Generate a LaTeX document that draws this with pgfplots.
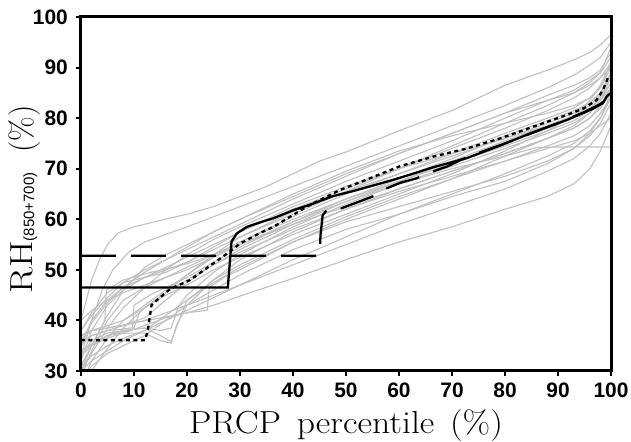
\documentclass[border=0pt]{standalone}
\usepackage{fontspec}
\usepackage{pgfplots}
\pgfplotsset{compat=1.18}
\newfontfamily\sansfnt{Liberation Sans}
\newcommand\tickfnt{\sansfnt\bfseries\fontsize{21}{21}\selectfont}
\newcommand\labfnt{\fontsize{32}{32}\selectfont}
\definecolor{lgray}{RGB}{192,192,192}
\pgfplotsset{gry/.style={color=lgray, line width=1.1bp, no markers}}
\begin{document}
\begin{tikzpicture}
\begin{axis}[
    scale only axis,
    width=530bp, height=354bp,
    xmin=0, xmax=100, ymin=30, ymax=100,
    xtick={0,10,...,100}, ytick={30,40,...,100},
    tick pos=left,
    tick align=outside,
    major tick length=5bp,
    tick style={line width=2bp, black},
    axis line style={line width=3bp},
    axis on top,
    tick label style={font=\tickfnt, inner sep=0pt},
    /pgf/number format/assume math mode=true,
    xticklabel style={anchor=north, yshift=-7bp},
    yticklabel style={anchor=east, xshift=-8bp},
    xlabel={\labfnt\scalebox{1.12}[1]{PRCP\hspace{14bp}percentile\hspace{14bp}(\%)}},
    xlabel style={at={(axis description cs:0.5,0)}, anchor=north, inner sep=0pt, yshift=-38bp},
    ylabel={\labfnt\scalebox{1.2}[1]{RH}\raisebox{-2bp}{\sansfnt\fontsize{15}{15}\selectfont (850+700)}\hspace{20bp}(\%)},
    ylabel style={at={(axis description cs:-0.1377,0.4845)}, anchor=north, inner sep=0pt},
]
% ensemble members
\addplot[gry] coordinates {(0,40) (1,44) (2,48) (3.5,52) (5,55) (7,57.3) (10,58.5) (15,59.8) (20,61) (25,62.5) (30,64.5) (35,66.5) (40,69) (45,71.5) (50,73.3) (60,77.5) (70,81.5) (80,86.5) (88,89.5) (93,91.5) (96,93) (98,94.5) (100,96.5)};
\addplot[gry] coordinates {(0,33) (2,40) (4,46) (6,50) (9,53.5) (12,55.5) (16,57) (20,58.5) (25,60.5) (30,62.5) (40,66.5) (50,70.5) (60,74.5) (70,78.5) (80,82.5) (88,86) (93,88.5) (96,90.5) (98,92) (100,95)};
\addplot[gry] coordinates {(0,31) (2,35) (5,41) (8,46) (12,50.5) (16,53) (20,55) (25,57.5) (30,60) (40,64.5) (50,69) (60,73) (70,77) (80,81) (88,84.5) (93,86.5) (96,88) (98,89.5) (100,93)};
\addplot[gry] coordinates {(0,36) (2,39.5) (5,43.5) (8,46.5) (12,49.5) (16,52) (20,54.5) (25,57.5) (30,60) (40,65) (50,69.5) (60,73.5) (70,76.5) (80,79) (88,81) (93,82.5) (96,84) (98,86) (100,91)};
\addplot[gry] coordinates {(0,30) (2,33.5) (5,38.5) (8,42.5) (12,46.5) (16,50) (20,53) (25,56) (30,58.5) (40,63) (50,67.5) (60,71.5) (70,75.5) (80,80) (88,83.5) (93,85.5) (96,87.5) (98,89) (100,92)};
\addplot[gry] coordinates {(0,38) (2,41.5) (5,45.5) (8,47.5) (12,48.5) (16,49.5) (20,51.5) (25,54.5) (30,57.5) (40,62.5) (50,66.5) (60,70) (70,73) (80,76) (88,78.5) (93,80.5) (96,82.5) (98,84.5) (100,89)};
\addplot[gry] coordinates {(0,35) (2,37) (5,38) (8,38.3) (10,38.6) (11,41.5) (12,42.5) (16,45.5) (20,49) (25,53) (30,56.5) (40,61.5) (50,65.5) (60,69) (70,72.5) (80,76) (88,79) (93,81) (96,83) (98,85) (100,88)};
\addplot[gry] coordinates {(0,27) (2,32) (5,36.5) (8,40) (12,43) (16,46) (20,49) (25,52.5) (30,55.5) (40,60.5) (50,65) (60,69) (70,73) (80,77) (88,80) (93,82) (96,84) (98,86) (100,90)};
\addplot[gry] coordinates {(0,37) (2,38) (5,38.5) (8,39) (12,40.5) (16,44) (20,47.5) (25,51) (30,54) (40,59) (50,63.5) (60,67.5) (70,71.5) (80,75.5) (88,78.5) (93,80.5) (96,82) (98,84) (100,87)};
\addplot[gry] coordinates {(0,33) (2,36) (5,37.5) (8,38) (12,38.5) (15,38) (17,38.5) (18.5,43) (20,45) (25,49.5) (30,53) (40,58.5) (50,63) (60,67) (70,70.5) (80,74) (88,77) (93,79) (96,81) (98,83.5) (100,86)};
\addplot[gry] coordinates {(0,31) (2,35) (5,37) (8,37.5) (12,37.5) (15,36) (17,35.5) (18,39) (20,43) (25,48) (30,52) (40,57.5) (50,62) (60,66) (70,69.5) (80,73) (88,76) (93,78) (96,80) (98,82) (100,85)};
\addplot[gry] coordinates {(0,30) (2,35) (4.5,40) (4.8,46) (8,48) (12,49.2) (16,50.2) (20,51.2) (25,53) (30,55) (40,59) (50,62.5) (60,66) (70,69.5) (80,73) (88,76) (93,78) (96,80) (98,82.5) (100,86)};
\addplot[gry] coordinates {(0,26) (2,30) (5,34.5) (8,38.5) (12,42.5) (16,45.5) (20,48) (25,51) (30,53.5) (40,58) (50,62) (60,65.5) (70,68.5) (80,71.5) (88,74) (93,75.5) (96,77) (98,78.5) (100,80)};
\addplot[gry] coordinates {(0,40) (2,42) (5,44) (8,45.5) (12,47) (16,48.5) (20,50) (25,52.5) (30,55) (40,59.5) (50,63.5) (60,67) (70,70) (80,72.5) (86,74.2) (90,74.3) (100,74.3)};
\addplot[gry] coordinates {(0,36) (2,37) (5,38) (8,39) (12,40) (16,41.5) (20,43) (25,45) (30,47) (40,51) (50,55) (60,59) (70,62.5) (80,66) (88,69.5) (93,72) (96,74.5) (98,77) (100,81)};
\addplot[gry] coordinates {(0,34) (2,35) (5,36.5) (8,37.5) (12,39) (16,40.5) (20,41.5) (25,43) (30,44.8) (40,48.3) (50,52) (60,55.5) (70,58.5) (80,62) (88,64.5) (93,67) (96,70) (98,73.5) (100,78.5)};
\addplot[gry] coordinates {(0,30) (2,32) (5,34) (8,36) (12,38) (16,40) (20,42) (25,44.5) (30,47) (40,52) (50,56.5) (60,61) (70,65) (80,69) (88,72.5) (93,75) (96,77.5) (98,80) (100,84)};
\addplot[gry] coordinates {(0,37) (2,38) (5,38.5) (10,39.5) (15,40.5) (20,41.5) (23.8,42) (24.2,46.5) (27,48.5) (30,50) (40,55.5) (50,60) (60,64) (70,68) (80,72.5) (88,76) (93,78.5) (96,81) (98,83.5) (100,87)};
\addplot[gry] coordinates {(0,32) (2,38) (5,43) (8,46) (12,48.5) (16,50.5) (20,52.5) (25,55) (30,57.5) (40,62) (50,66) (60,70) (70,74) (80,78) (88,81.5) (93,84) (96,86) (98,88) (100,91)};
\addplot[gry] coordinates {(0,35) (2,40) (5,44) (8,46.5) (12,48.5) (16,50) (20,51.5) (25,54) (30,56.5) (40,61) (50,65.5) (60,70) (70,74.5) (80,79) (88,82.5) (93,85) (96,87) (98,89) (100,94)};
\addplot[gry] coordinates {(0,29) (2,34) (5,40) (8,44) (12,46.5) (16,48.5) (20,50.5) (25,53) (30,55.5) (40,60) (50,64) (60,67.5) (70,71) (80,74.5) (88,77.5) (93,79.5) (96,81.5) (98,84) (100,88)};
\addplot[gry] coordinates {(0,33) (2,35) (5,37) (8,38) (12,38.5) (15,37) (17,35.8) (18.5,40) (20,44) (25,48) (30,51) (40,56) (50,60.5) (60,64.5) (70,68) (80,71.5) (88,74.5) (93,76.5) (96,78.5) (98,81) (100,84)};
\addplot[gry] coordinates {(0,36) (2,38) (5,39) (8,40) (12,42.5) (16,45) (20,47) (25,50) (30,52.5) (40,57) (50,61) (60,65) (70,69) (80,73.5) (88,77.5) (93,80.5) (96,83.5) (98,86.5) (100,91)};
\addplot[gry] coordinates {(0,31) (2,33) (5,35) (8,36.5) (12,38) (16,41) (20,44) (25,47.5) (30,50.5) (40,55.5) (50,59.5) (60,62.5) (70,65.5) (80,68.5) (88,71.5) (93,74) (96,76.5) (98,79) (100,83)};
\addplot[gry] coordinates {(0,38) (2,41) (5,44.5) (8,47.5) (12,50) (16,52) (20,54) (25,56.5) (30,59) (40,64) (50,68.5) (60,73) (70,77) (80,81) (88,83.5) (93,85) (96,86.5) (98,88) (100,90)};
\addplot[gry] coordinates {(0,28) (2,31) (5,33.5) (8,35) (12,37) (16,40) (20,43) (25,46) (30,49) (40,54) (50,58) (60,61) (70,64.5) (80,67.5) (88,71) (93,74) (96,77) (98,80) (100,85)};
\addplot[gry] coordinates {(0,34) (3,36) (6,37.5) (9.7,38) (10,43) (13,45) (16,46.5) (20,48.5) (25,51.5) (30,54.5) (40,59.5) (50,64) (60,68) (70,72) (80,76.5) (88,79.5) (93,81.5) (96,83) (98,85) (100,89)};
% dashed
\addplot[black, line width=2.3bp, dash pattern=on 35bp off 15bp] coordinates {(0,52.8) (45,52.8) (45.2,57) (45.6,60.8) (46.5,62) (49.2,62.2) (52,63.3) (55.2,64.6) (57.4,66) (60.2,67.2) (63.3,68.1) (66.2,69.4) (69,70.4) (71.8,71.8) (76,73.5) (80,75) (85,77) (90,79) (95,81.2) (98,82.8) (100,84.5)};
% dotted
\addplot[black, line width=2.3bp, dash pattern=on 4bp off 3.5bp] coordinates {(0,36.1) (12.1,36.1) (12.6,38) (13.3,43) (14.3,44) (16.8,46.2) (20.6,48) (25,51.3) (28.1,53.6) (30,55.2) (33.8,57.3) (36.3,58.5) (42.6,62.5) (48.9,65.8) (55.2,68.4) (60.2,70.5) (66.5,72.4) (72.8,74) (79.1,76) (85.3,78.3) (91.6,80.6) (95,82) (97.3,83.6) (98.5,85.6) (99.5,88.2)};
% solid
\addplot[black, line width=2.3bp] coordinates {(0,46.5) (27.7,46.5) (28.4,55.6) (29.4,57.2) (31.3,58.5) (33.8,59.4) (36.3,60.2) (40.1,61.8) (43.8,63.1) (47.6,64.6) (51.4,65.6) (55.2,66.7) (58.9,67.8) (62,68.8) (66.5,70.3) (72.8,72.1) (79.1,74.6) (85.3,77.2) (91.6,79.6) (96.7,81.9) (98.5,83) (99.2,84.3) (100,85)};
\end{axis}
\path[use as bounding box] ([xshift=-81bp,yshift=-69bp]current axis.south west) rectangle ([xshift=20bp,yshift=17bp]current axis.north east);
\end{tikzpicture}
\end{document}
